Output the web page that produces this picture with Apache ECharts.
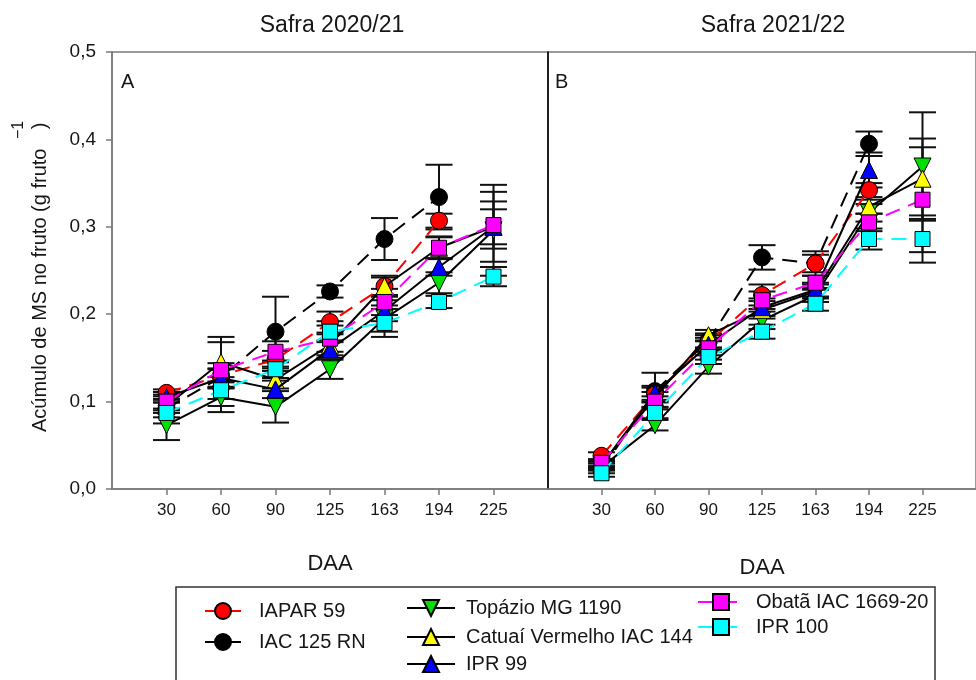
<!DOCTYPE html>
<html>
<head>
<meta charset="utf-8">
<script src="https://cdn.jsdelivr.net/npm/echarts@6/dist/echarts.min.js"></script>
<style>
  html, body { margin: 0; padding: 0; background: #fff; }
  #chart { width: 976px; height: 680px; }
</style>
</head>
<body>
<div id="chart"></div>
<script>
// Days after anthesis (DAA) used as category ticks
const daa = ['30', '60', '90', '125', '163', '194', '225'];
const cultivars = ['IAPAR 59', 'IAC 125 RN', 'Topázio MG 1190', 'Catuaí Vermelho IAC 144', 'IPR 99', 'Obatã IAC 1669-20', 'IPR 100'];
const yTicks = [0, 0.1, 0.2, 0.3, 0.4, 0.5];

// Safra 2020/21 — dry-matter accumulation (g fruto^-1)
const a_iapar59   = [0.110, 0.130, 0.148, 0.191, 0.232, 0.307, null];
const a_iac125rn  = [0.092, 0.128, 0.180, 0.226, 0.286, 0.334, null];
const a_topazio   = [0.073, 0.105, 0.094, 0.137, 0.195, 0.236, 0.296];
const a_catuai    = [0.095, 0.145, 0.125, 0.165, 0.232, 0.276, 0.300];
const a_ipr99     = [0.105, 0.127, 0.114, 0.160, 0.204, 0.254, 0.300];
const a_obata     = [0.100, 0.136, 0.157, 0.172, 0.214, 0.276, 0.302];
const a_ipr100    = [0.087, 0.113, 0.137, 0.180, 0.190, 0.214, 0.243];

// Safra 2020/21 — standard errors
const a_iapar59_se  = [0.004, 0.008, 0.010, 0.012, 0.012, 0.008, null];
const a_iac125rn_se = [0.010, 0.040, 0.040, 0.007, 0.024, 0.037, null];
const a_topazio_se  = [0.017, 0.010, 0.018, 0.011, 0.015, 0.012, 0.052];
const a_catuai_se   = [0.008, 0.029, 0.010, 0.012, 0.010, 0.012, 0.020];
const a_ipr99_se    = [0.006, 0.010, 0.010, 0.010, 0.012, 0.010, 0.040];
const a_obata_se    = [0.008, 0.008, 0.012, 0.015, 0.015, 0.013, 0.027];
const a_ipr100_se   = [0.012, 0.010, 0.010, 0.012, 0.016, 0.007, 0.011];

// Safra 2021/22 — dry-matter accumulation (g fruto^-1)
const b_iapar59   = [0.038, 0.108, 0.168, 0.222, 0.258, 0.342, null];
const b_iac125rn  = [0.022, 0.112, 0.170, 0.265, 0.258, 0.395, null];
const b_topazio   = [0.025, 0.073, 0.140, 0.193, 0.222, 0.316, 0.369];
const b_catuai    = [0.028, 0.105, 0.176, 0.205, 0.226, 0.323, 0.355];
const b_ipr99     = [0.027, 0.110, 0.165, 0.208, 0.228, 0.365, null];
const b_obata     = [0.030, 0.100, 0.161, 0.216, 0.236, 0.305, 0.331];
const b_ipr100    = [0.018, 0.087, 0.151, 0.180, 0.212, 0.286, 0.286];

// Safra 2021/22 — standard errors
const b_iapar59_se  = [0.004, 0.008, 0.008, 0.012, 0.014, 0.008, null];
const b_iac125rn_se = [0.004, 0.021, 0.008, 0.014, 0.010, 0.014, null];
const b_topazio_se  = [0.004, 0.006, 0.008, 0.010, 0.008, 0.010, 0.062];
const b_catuai_se   = [0.004, 0.006, 0.006, 0.010, 0.008, 0.008, 0.046];
const b_ipr99_se    = [0.004, 0.008, 0.008, 0.010, 0.008, 0.020, null];
const b_obata_se    = [0.004, 0.006, 0.008, 0.010, 0.008, 0.010, 0.060];
const b_ipr100_se   = [0.004, 0.006, 0.008, 0.008, 0.008, 0.012, 0.027];

const panelA = [a_iapar59, a_iac125rn, a_topazio, a_catuai, a_ipr99, a_obata, a_ipr100];
const panelA_se = [a_iapar59_se, a_iac125rn_se, a_topazio_se, a_catuai_se, a_ipr99_se, a_obata_se, a_ipr100_se];
const panelB = [b_iapar59, b_iac125rn, b_topazio, b_catuai, b_ipr99, b_obata, b_ipr100];
const panelB_se = [b_iapar59_se, b_iac125rn_se, b_topazio_se, b_catuai_se, b_ipr99_se, b_obata_se, b_ipr100_se];

// Visual style per cultivar (z sets drawing order of the markers)
const looks = [
  { marker: '#ff0000', line: '#ff0000', type: [15, 9], symbol: 'circle', rot: 0, z: 4 },
  { marker: '#000000', line: '#000000', type: [15, 9], symbol: 'circle', rot: 0, z: 3 },
  { marker: '#00e000', line: '#000000', type: 'solid', symbol: 'triangle', rot: 180, z: 5 },
  { marker: '#ffff00', line: '#000000', type: 'solid', symbol: 'triangle', rot: 0, z: 6 },
  { marker: '#0000ff', line: '#000000', type: 'solid', symbol: 'triangle', rot: 0, z: 7 },
  { marker: '#ff00ff', line: '#ff00ff', type: [15, 9], symbol: 'rect', rot: 0, z: 8 },
  { marker: '#00ffff', line: '#00ffff', type: [15, 9], symbol: 'rect', rot: 0, z: 9 }
];

// Legend slots: [left of icon, vertical centre, icon width, text padding]
const legendSlots = [
  [204, 611, 36, 13],
  [204, 642, 36, 13],
  [406, 608, 48, 6],
  [406, 637, 48, 6],
  [406, 664, 48, 6],
  [697, 602, 46, 7],
  [697, 627, 46, 7]
];

const FONT = "'Liberation Sans', Arial, sans-serif";
const TXT = '#161616';
const AXIS_GRAY = '#7a7a7a';

function pairs(vals) {
  return vals.map((v, i) => [i, v]);
}

function errorRows(vals, ses) {
  const rows = [];
  vals.forEach((v, i) => {
    if (v != null && ses[i] != null) rows.push([i, v - ses[i], v + ses[i]]);
  });
  return rows;
}

function errorBarItem(params, api) {
  const x = api.value(0);
  const top = api.coord([x, api.value(2)]);
  const bot = api.coord([x, api.value(1)]);
  const hw = 13.5;
  const style = { stroke: '#111', lineWidth: 2, fill: null };
  return {
    type: 'group',
    children: [
      { type: 'line', shape: { x1: top[0], y1: top[1], x2: bot[0], y2: bot[1] }, style },
      { type: 'line', shape: { x1: top[0] - hw, y1: top[1], x2: top[0] + hw, y2: top[1] }, style },
      { type: 'line', shape: { x1: bot[0] - hw, y1: bot[1], x2: bot[0] + hw, y2: bot[1] }, style }
    ]
  };
}

function xAxisFor(gridIndex, nameGap) {
  return {
    type: 'value', gridIndex, min: -1, max: 7, interval: 1,
    name: 'DAA', nameLocation: 'middle', nameGap,
    nameTextStyle: { fontFamily: FONT, fontSize: 22, color: TXT },
    axisLine: { show: true, onZero: false, lineStyle: { color: AXIS_GRAY, width: 1.5 } },
    axisTick: { show: true, inside: false, length: 6, customValues: [0, 1, 2, 3, 4, 5, 6], lineStyle: { color: AXIS_GRAY, width: 1.5 } },
    axisLabel: {
      show: true, margin: 13, fontFamily: FONT, fontSize: 17, color: TXT,
      customValues: [0, 1, 2, 3, 4, 5, 6],
      formatter: v => daa[Math.round(v)] || ''
    },
    splitLine: { show: false }
  };
}

const series = [];
function addPanel(vals, ses, xi, yi) {
  series.push({
    type: 'custom', xAxisIndex: xi, yAxisIndex: yi, z: 1,
    renderItem: errorBarItem,
    encode: { x: 0, y: [1, 2] },
    data: [].concat(...vals.map((v, k) => errorRows(v, ses[k]))),
    silent: true
  });
  vals.forEach((v, k) => {
    const lk = looks[k];
    series.push({
      type: 'line', name: cultivars[k], xAxisIndex: xi, yAxisIndex: yi, z: lk.z,
      data: pairs(v),
      symbol: lk.symbol, symbolSize: lk.symbol === 'rect' ? 15 : 17, symbolRotate: lk.rot,
      showSymbol: true, connectNulls: false, animation: false,
      lineStyle: { color: lk.line, width: 2, type: lk.type },
      itemStyle: { color: lk.marker, borderColor: '#000', borderWidth: 1 }
    });
  });
}
addPanel(panelA, panelA_se, 0, 0);
addPanel(panelB, panelB_se, 1, 1);

const legends = cultivars.map((name, k) => {
  const [left, cy, width, pad] = legendSlots[k];
  return {
    orient: 'horizontal', left, top: cy - 10, itemWidth: width, itemHeight: 20,
    data: [name], selectedMode: false, padding: 0,
    textStyle: { fontFamily: FONT, fontSize: 20, color: TXT, padding: [0, 0, 0, pad] }
  };
});

const option = {
  animation: false,
  backgroundColor: '#fff',
  title: [
    { text: 'Safra 2020/21', left: 327, top: 9, textAlign: 'center',
      textStyle: { fontFamily: FONT, fontSize: 23, fontWeight: 'normal', color: TXT } },
    { text: 'Safra 2021/22', left: 768, top: 9, textAlign: 'center',
      textStyle: { fontFamily: FONT, fontSize: 23, fontWeight: 'normal', color: TXT } }
  ],
  grid: [
    { left: 112, top: 52, width: 436, height: 437, show: true, borderColor: AXIS_GRAY, borderWidth: 1.5 },
    { left: 548, top: 52, width: 436, height: 437, show: true, borderColor: AXIS_GRAY, borderWidth: 1.5 }
  ],
  xAxis: [xAxisFor(0, 64), xAxisFor(1, 68)],
  yAxis: [
    {
      type: 'value', gridIndex: 0, min: 0, max: 0.5, interval: 0.1,
      axisLine: { show: true, onZero: false, lineStyle: { color: AXIS_GRAY, width: 1.5 } },
      axisTick: { show: true, length: 6, lineStyle: { color: AXIS_GRAY, width: 1.5 } },
      axisLabel: { margin: 16, fontFamily: FONT, fontSize: 19, color: TXT,
        formatter: v => yTicks.includes(+v.toFixed(1)) ? v.toFixed(1).replace('.', ',') : '' },
      splitLine: { show: false }
    },
    {
      type: 'value', gridIndex: 1, min: 0, max: 0.5, interval: 0.1,
      axisLine: { show: true, onZero: false, lineStyle: { color: '#000', width: 1.5 } },
      axisTick: { show: false }, axisLabel: { show: false }, splitLine: { show: false }
    }
  ],
  legend: legends,
  graphic: [
    { type: 'rect', shape: { x: 176, y: 587, width: 759, height: 140 }, z: -1,
      style: { fill: 'none', stroke: '#333', lineWidth: 1.5 } },
    { type: 'text', x: 121, y: 82, style: { text: 'A', font: "20px " + FONT, fill: TXT, verticalAlign: 'middle' } },
    { type: 'text', x: 555, y: 82, style: { text: 'B', font: "20px " + FONT, fill: TXT, verticalAlign: 'middle' } },
    { type: 'text', x: 40, y: 432, rotation: Math.PI / 2,
      style: { text: 'Acúmulo de MS no fruto (g fruto', font: "20px " + FONT, fill: TXT, align: 'left', verticalAlign: 'middle' } },
    { type: 'text', x: 40, y: 126, rotation: Math.PI / 2,
      style: { text: ')', font: "20px " + FONT, fill: TXT, align: 'center', verticalAlign: 'middle' } },
    { type: 'text', x: 19, y: 130, rotation: Math.PI / 2,
      style: { text: '\u22121', font: "16px " + FONT, fill: TXT, align: 'center', verticalAlign: 'middle' } }
  ],
  series
};

const chart = echarts.init(document.getElementById('chart'), null, { renderer: 'canvas' });
chart.setOption(option);
</script>
</body>
</html>
